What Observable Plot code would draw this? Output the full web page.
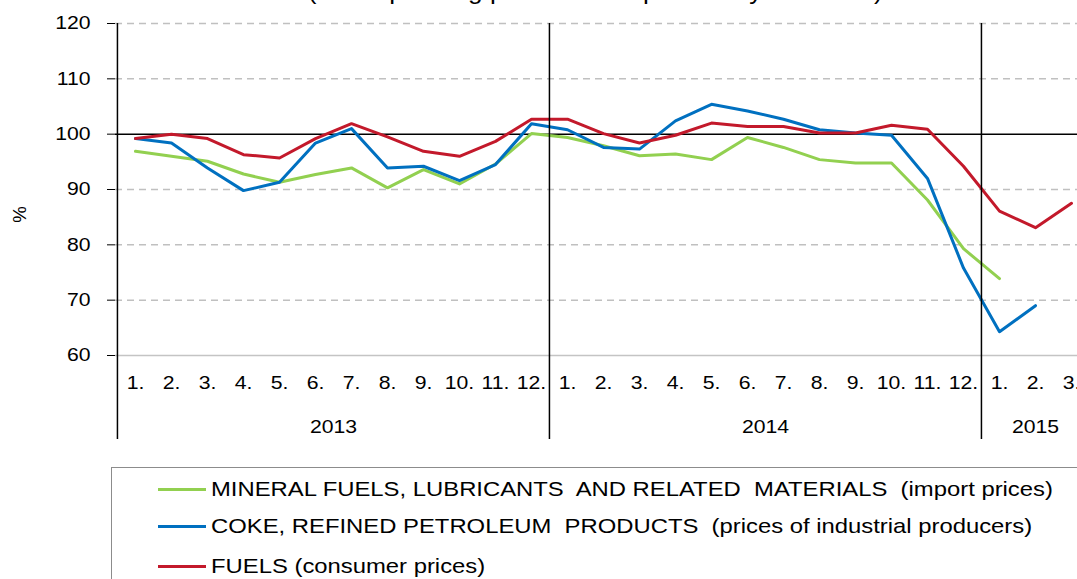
<!DOCTYPE html>
<html>
<head>
<meta charset="utf-8">
<script src="https://cdn.jsdelivr.net/npm/d3@7"></script>
<script src="https://cdn.jsdelivr.net/npm/@observablehq/plot@0.6"></script>
<style>
  html, body { margin: 0; padding: 0; background: #fff; overflow: hidden; width: 1077px; height: 579px; }
  body { position: relative; font-family: "Liberation Sans", Arial, sans-serif; }
  #title { position: absolute; left: 0; width: 1190px; top: -20px; text-align: center; font-size: 23px; line-height: 23px; color: #000; white-space: nowrap; }
  #title span { display: inline-block; transform: scaleX(1.14); }
  #chart { position: absolute; left: 0; top: 0; }
  #legend { position: absolute; left: 111px; top: 467px; width: 1000px; height: 140px; border: 1px solid #8c8c8c; box-sizing: border-box; }
  .item { position: absolute; left: 46px; font-size: 21px; line-height: 24px; white-space: nowrap; color: #000; display: flex; align-items: center; }
  .sw { width: 48px; height: 3px; margin-right: 5px; flex: none; }
  .tx { display: inline-block; white-space: pre; transform: scaleX(1.135); transform-origin: left center; }
</style>
</head>
<body>
<div id="title"><span>(corresponding period of the previous year = 100)</span></div>
<div id="chart"></div>
<div id="legend"></div>
<script>
// ---- data ----
const years = ["2013", "2014", "2015"];
const monthsPerYear = [12, 12, 3];
const monthLabels = ["1.", "2.", "3.", "4.", "5.", "6.", "7.", "8.", "9.", "10.", "11.", "12."];
const seriesNames = [
  "MINERAL FUELS, LUBRICANTS  AND RELATED  MATERIALS  (import prices)",
  "COKE, REFINED PETROLEUM  PRODUCTS  (prices of industrial producers)",
  "FUELS (consumer prices)"
];
const seriesColors = ["#92d050", "#0070c0", "#c3192b"];
const yTicks = [60, 70, 80, 90, 100, 110, 120];

const mineralFuels = [96.9, 96.0, 95.1, 92.8, 91.3, 92.7, 93.9, 90.3, 93.6, 91.0, 94.6, 100.1,
                      99.4, 97.9, 96.1, 96.4, 95.4, 99.4, 97.6, 95.4, 94.8, 94.8, 88.1, 79.3,
                      73.9, null, null];
const cokePetroleum = [99.2, 98.4, 93.9, 89.8, 91.3, 98.4, 101.0, 93.9, 94.2, 91.6, 94.5, 101.9,
                       100.8, 97.6, 97.3, 102.4, 105.4, 104.2, 102.7, 100.8, 100.2, 99.8, 92.0, 75.8,
                       64.3, 69.0, null];
const fuelsConsumer = [99.2, 100.0, 99.2, 96.3, 95.7, 99.2, 101.9, 99.5, 96.9, 96.0, 98.7, 102.7,
                       102.7, 100.1, 98.4, 99.8, 102.0, 101.4, 101.4, 100.2, 100.2, 101.6, 100.9, 94.2,
                       86.1, 83.1, 87.5];

// ---- derived tables ----
const cats = [];
years.forEach((y, yi) => { for (let m = 0; m < monthsPerYear[yi]; m++) cats.push({key: y + "-" + (m + 1), year: y, label: monthLabels[m]}); });
const keys = cats.map(d => d.key);
const allSeries = [mineralFuels, cokePetroleum, fuelsConsumer];
const rows = [];
allSeries.forEach((vals, si) => vals.forEach((v, i) => rows.push({key: keys[i], series: seriesNames[si], value: v})));

const xRange = [115, 1090];
const step = (xRange[1] - xRange[0]) / keys.length;
const yearStarts = [];
const yearMidsEven = [];
const yearMidsOdd = [];
let idx = 0;
years.forEach((y, yi) => {
  yearStarts.push(keys[idx]);
  const n = monthsPerYear[yi];
  const d = {key: keys[idx + Math.floor((n - 1) / 2)], year: y};
  (n % 2 === 0 ? yearMidsEven : yearMidsOdd).push(d);
  idx += n;
});

const font = "Liberation Sans, Arial, sans-serif";
const fs = 18.6;
const chart = Plot.plot({
  width: 1077,
  height: 460,
  marginLeft: 115,
  marginTop: 23,
  marginBottom: 105,
  marginRight: 0,
  style: {fontFamily: font, fontSize: fs + "px", color: "#000", overflow: "visible"},
  x: {type: "point", domain: keys, range: xRange, padding: 0.5, axis: null},
  y: {domain: [60, 120], axis: null},
  color: {domain: seriesNames, range: seriesColors},
  marks: [
    Plot.ruleY(yTicks.filter(t => t !== 60 && t !== 100), {y: d => d, stroke: "#c0c0c0", strokeWidth: 1.5, strokeDasharray: "7,5"}),
    Plot.ruleY([60], {y: d => d, stroke: "#c4c4c4", strokeWidth: 1.5}),
    Plot.ruleY([100], {y: d => d, stroke: "#000", strokeWidth: 1.5}),
    Plot.line(rows, {x: "key", y: "value", stroke: "series", z: "series", strokeWidth: 3, curve: "linear"}),
    Plot.ruleX(yearStarts, {x: d => d, dx: -step / 2, y1: 120, y2: 44.8, stroke: "#000", strokeWidth: 1.5, clip: false}),
    Plot.axisY({ticks: yTicks, tickSize: 8, tickPadding: 17, fontSize: fs, label: null, stroke: "#000"}),
    Plot.text(["%"], {frameAnchor: "left", y: [84], dx: -95, rotate: -90, fontSize: fs, fill: "#000"}),
    Plot.text(cats, {x: "key", y: 60, dy: 28, text: "label", fontSize: fs, fill: "#000"}),
    Plot.text(yearMidsEven, {x: "key", y: 60, dy: 72, dx: step / 2, text: "year", fontSize: fs, fill: "#000"}),
    Plot.text(yearMidsOdd, {x: "key", y: 60, dy: 72, text: "year", fontSize: fs, fill: "#000"})
  ]
});
document.getElementById("chart").appendChild(chart);
// the reference is drawn horizontally stretched: widen every svg text the same way
chart.querySelectorAll("text").forEach(t => {
  if (t.getAttribute("transform") && /rotate/.test(t.getAttribute("transform"))) return;
  const len = t.getComputedTextLength();
  if (len > 0) {
    t.setAttribute("textLength", (len * 1.14).toFixed(2));
    t.setAttribute("lengthAdjust", "spacingAndGlyphs");
  }
});

// ---- legend (below the SVG) ----
const legend = document.getElementById("legend");
const rowTops = [9, 46, 86];
seriesNames.forEach((name, i) => {
  const it = document.createElement("div");
  it.className = "item";
  it.style.top = rowTops[i] + "px";
  const sw = document.createElement("span");
  sw.className = "sw";
  sw.style.background = seriesColors[i];
  const tx = document.createElement("span");
  tx.className = "tx";
  tx.textContent = name;
  it.appendChild(sw); it.appendChild(tx);
  legend.appendChild(it);
});
</script>
</body>
</html>
